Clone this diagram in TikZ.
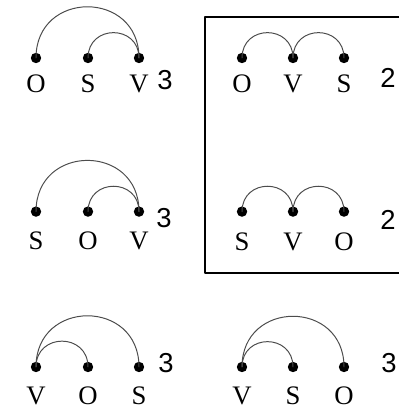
\documentclass[tikz,border=0pt]{standalone}
\usepackage{fontspec}
\setmainfont{Liberation Serif}
\newfontfamily\cifrafont{Liberation Sans}
\usepackage{tikz}
\usetikzlibrary{arrows.meta}

\begin{document}
\begin{tikzpicture}[line cap=round, line join=round,
  punto/.style={circle, fill=black, inner sep=0pt, minimum size=2.6mm},
  arco/.style={draw=black!70, line width=.7pt, out=90, in=90, looseness=1.7},
  lettera/.style={inner sep=0pt, font=\fontsize{19}{21}\selectfont},
  cifra/.style={inner sep=0pt, font=\cifrafont\fontsize{19.5}{21}\selectfont}]

\useasboundingbox (0,0) rectangle (9.975,10.25);

% Riquadro
\draw[line width=1.2pt, line cap=butt] (9.975,9.825) -- (5.125,9.825)
    -- (5.125,3.425) -- (9.975,3.425);

% O S V
\node[punto] (o1) at (0.9,8.8) {};
\node[punto] (s1) at (2.2,8.8) {};
\node[punto] (v1) at (3.475,8.8) {};
\node[lettera] (lo1) at (0.9,8.15) {O};
\node[lettera] (ls1) at (2.2,8.15) {S};
\node[lettera] (lv1) at (3.475,8.15) {V};
\node[cifra] (n1) at (4.125,8.25) {3};
\draw[arco] (o1.center) to (v1.center);
\draw[arco] (s1.center) to (v1.center);

% O V S
\node[punto] (o2) at (6.05,8.8) {};
\node[punto] (v2) at (7.325,8.8) {};
\node[punto] (s2) at (8.6,8.8) {};
\node[lettera] (lo2) at (6.05,8.15) {O};
\node[lettera] (lv2) at (7.325,8.15) {V};
\node[lettera] (ls2) at (8.6,8.15) {S};
\node[cifra] (n2) at (9.7,8.3) {2};
\draw[arco] (o2.center) to (v2.center);
\draw[arco] (v2.center) to (s2.center);

% S O V
\node[punto] (s3) at (0.9,4.96) {};
\node[punto] (o3) at (2.2,4.96) {};
\node[punto] (v3) at (3.475,4.96) {};
\node[lettera] (ls3) at (0.9,4.22) {S};
\node[lettera] (lo3) at (2.2,4.22) {O};
\node[lettera] (lv3) at (3.475,4.22) {V};
\node[cifra] (n3) at (4.1,4.8) {3};
\draw[arco] (s3.center) to (v3.center);
\draw[arco] (o3.center) to (v3.center);

% S V O
\node[punto] (s4) at (6.05,4.96) {};
\node[punto] (v4) at (7.325,4.96) {};
\node[punto] (o4) at (8.6,4.96) {};
\node[lettera] (ls4) at (6.05,4.2) {S};
\node[lettera] (lv4) at (7.325,4.2) {V};
\node[lettera] (lo4) at (8.6,4.2) {O};
\node[cifra] (n4) at (9.7,4.75) {2};
\draw[arco] (s4.center) to (v4.center);
\draw[arco] (v4.center) to (o4.center);

% V O S
\node[punto] (v5) at (0.9,1.075) {};
\node[punto] (o5) at (2.2,1.075) {};
\node[punto] (s5) at (3.475,1.075) {};
\node[lettera] (lv5) at (0.9,0.35) {V};
\node[lettera] (lo5) at (2.2,0.35) {O};
\node[lettera] (ls5) at (3.475,0.35) {S};
\node[cifra] (n5) at (4.15,1.175) {3};
\draw[arco] (v5.center) to (s5.center);
\draw[arco] (v5.center) to (o5.center);

% V S O
\node[punto] (v6) at (6.05,1.075) {};
\node[punto] (s6) at (7.325,1.075) {};
\node[punto] (o6) at (8.6,1.075) {};
\node[lettera] (lv6) at (6.05,0.35) {V};
\node[lettera] (ls6) at (7.325,0.35) {S};
\node[lettera] (lo6) at (8.6,0.35) {O};
\node[cifra] (n6) at (9.725,1.175) {3};
\draw[arco] (v6.center) to (o6.center);
\draw[arco] (v6.center) to (s6.center);

\end{tikzpicture}
\end{document}
